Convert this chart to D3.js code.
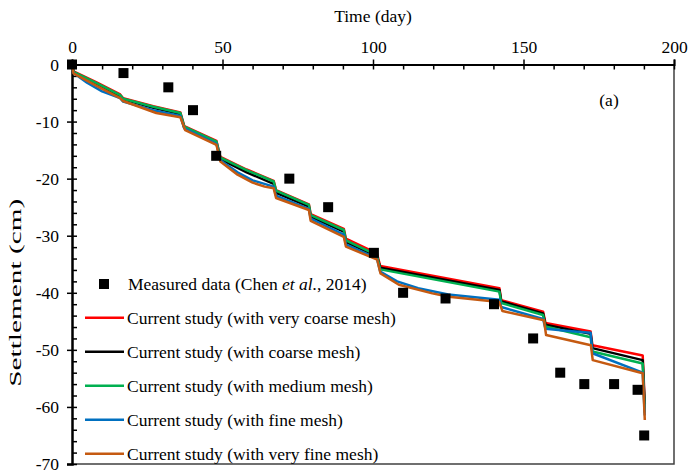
<!DOCTYPE html>
<html>
<head>
<meta charset="utf-8">
<script src="https://cdn.jsdelivr.net/npm/d3@7"></script>
<style>
  html, body { margin: 0; padding: 0; background: #fff; }
  svg text { font-family: "Liberation Serif", "Times New Roman", serif; fill: #000; }
</style>
</head>
<body>
<svg id="chart" width="690" height="474"></svg>
<script>
// Axis ticks
const dayTicks = [0, 50, 100, 150, 200];
const dayMinorTicks = [0, 10, 20, 30, 40, 50, 60, 70, 80, 90, 100, 110, 120, 130, 140, 150, 160, 170, 180, 190, 200];
const settlementTicks = [0, -10, -20, -30, -40, -50, -60, -70];
const settlementMinorTicks = [0, -2, -4, -6, -8, -10, -12, -14, -16, -18, -20, -22, -24, -26, -28, -30, -32, -34, -36, -38, -40,
  -42, -44, -46, -48, -50, -52, -54, -56, -58, -60, -62, -64, -66, -68, -70];

// Field measurements
const measuredDay = [0, 17.1, 32.0, 40.2, 47.9, 72.2, 85.1, 100.3, 110.0, 124.1, 140.2, 153.2, 162.2, 170.2, 180.1, 187.9, 190.1];
const measuredSettlement = [0, -1.5, -4.0, -8.0, -16.0, -20.0, -25.0, -33.0, -40.0, -41.0, -42.0, -48.0, -54.0, -56.0, -56.0, -57.0, -65.0];

// Simulated settlement, [day, cm]
const veryCoarse = [[0,0],[0.5,-1.2],[8,-3.1],[16,-5.25],[17,-5.9],[27,-7.3],[36,-8.4],[37.3,-10.8],[48,-13.4],[49.3,-16.2],[58,-18.4],[67,-20.4],[67.8,-22.0],[78.7,-24.5],[79.3,-26.2],[90.3,-28.8],[91,-30.5],[101.3,-33.1],[102.4,-35.3],[142,-39.2],[142.6,-41.3],[156.5,-43.3],[157.3,-45.3],[172.3,-46.8],[172.9,-49.2],[189.6,-51.0],[190.3,-59.5]];
const coarse = [[0,0],[0.5,-1.35],[8,-3.4],[16,-5.5],[17,-6.1],[27,-7.6],[36,-8.7],[37.3,-11.1],[48,-13.8],[49.3,-16.6],[58,-18.9],[67,-20.9],[67.8,-22.5],[78.7,-24.9],[79.3,-26.7],[90.3,-29.3],[91,-31.1],[101.3,-33.6],[102.4,-35.6],[142,-39.5],[142.6,-41.5],[156.5,-43.6],[157.3,-45.6],[172.3,-47.2],[172.9,-49.7],[189.6,-51.8],[190.3,-60.5]];
const medium = [[0,0],[0.5,-1.3],[8,-3.2],[16,-5.35],[17,-6.0],[27,-7.4],[36,-8.5],[37.3,-10.9],[48,-13.5],[49.3,-16.3],[58,-18.5],[67,-20.5],[67.8,-22.1],[78.7,-24.6],[79.3,-26.4],[90.3,-29.0],[91,-30.8],[101.3,-33.4],[102.4,-35.9],[142,-39.8],[142.6,-41.8],[156.5,-43.9],[157.3,-45.9],[172.3,-47.8],[172.9,-50.3],[189.6,-52.4],[190.3,-61.0]];
const fine = [[0,0],[0.5,-1.5],[5,-3.2],[10,-4.7],[16,-5.9],[17,-6.5],[27,-8.0],[36,-9.0],[37.3,-11.2],[48,-13.9],[49.3,-16.8],[55,-18.9],[60,-20.3],[67,-21.4],[67.8,-23.0],[78.7,-25.3],[79.3,-27.0],[90.3,-29.8],[91,-31.5],[101.3,-34.0],[102.4,-36.3],[108,-38.0],[115,-39.2],[125,-40.3],[142,-41.2],[142.6,-42.5],[156.5,-44.6],[157.3,-46.3],[165,-46.7],[172.3,-47.0],[172.9,-50.6],[189.6,-54.0],[190.3,-61.5]];
const veryFine = [[0,0],[0.5,-1.55],[8,-3.7],[16,-5.9],[17,-6.4],[28,-8.5],[36,-9.25],[37.6,-11.5],[48,-14.1],[49.3,-17.0],[55,-19.3],[60,-20.7],[64,-21.4],[67,-21.7],[67.8,-23.4],[78.7,-25.5],[79.3,-27.4],[90.3,-30.2],[91,-31.9],[101.4,-34.2],[102.5,-36.6],[108.6,-38.6],[119.7,-40.1],[125.2,-40.7],[141.9,-41.6],[143,-43.2],[156.8,-44.8],[157.5,-47.4],[172.4,-49.2],[173,-51.8],[189.6,-54.1],[190.3,-62.3]];

const seriesNames = [
  "Current study (with very coarse mesh)",
  "Current study (with coarse mesh)",
  "Current study (with medium mesh)",
  "Current study (with fine mesh)",
  "Current study (with very fine mesh)"
];
const seriesData = [veryCoarse, coarse, medium, fine, veryFine];
const seriesColors = ["#ff0000", "#000000", "#00b050", "#0070c0", "#c55a11"];

const svg = d3.select("#chart");
const plotLeft = 72, plotRight = 674, plotTop = 64.5, plotBottom = 464;
const fontStack = '"Liberation Serif", "Times New Roman", serif';

const x = d3.scaleLinear().domain([0, 200]).range([plotLeft, plotRight]);
const y = d3.scaleLinear().domain([0, -70]).range([plotTop, plotBottom]);

svg.append("rect").attr("width", 690).attr("height", 474).attr("fill", "#fff");

// Right and bottom frame
svg.append("path")
  .attr("d", `M${plotLeft},${plotBottom}H${plotRight}V${plotTop}`)
  .attr("fill", "none").attr("stroke", "#404040").attr("stroke-width", 1.5);

// Top axis: inward ticks (major + minor) and outward major ticks with labels
svg.append("g").attr("transform", `translate(0,${plotTop})`)
  .call(d3.axisTop(x).tickValues(dayMinorTicks).tickSize(-5).tickFormat(""))
  .call(g => g.select(".domain").remove())
  .call(g => g.selectAll("line").attr("stroke", "#000").attr("stroke-width", 1.5));
const xAxis = svg.append("g").attr("transform", `translate(0,${plotTop})`)
  .call(d3.axisTop(x).tickValues(dayTicks).tickSize(5).tickPadding(7).tickFormat(d3.format("d")));
xAxis.attr("font-family", fontStack).attr("font-size", 17.5);
xAxis.select(".domain").attr("stroke", "#000").attr("stroke-width", 2);
xAxis.selectAll("line").attr("stroke", "#000").attr("stroke-width", 1.5);

// Left axis
svg.append("g").attr("transform", `translate(${plotLeft},0)`)
  .call(d3.axisLeft(y).tickValues(settlementMinorTicks).tickSize(-5).tickFormat(""))
  .call(g => g.select(".domain").remove())
  .call(g => g.selectAll("line").attr("stroke", "#000").attr("stroke-width", 1.5));
const yAxis = svg.append("g").attr("transform", `translate(${plotLeft},0)`)
  .call(d3.axisLeft(y).tickValues(settlementTicks).tickSize(5).tickPadding(8).tickFormat(d => d === 0 ? "0" : "-" + Math.abs(d)));
yAxis.attr("font-family", fontStack).attr("font-size", 17.5);
yAxis.select(".domain").attr("stroke", "#000").attr("stroke-width", 2.5);
yAxis.selectAll("line").attr("stroke", "#000").attr("stroke-width", 1.5);

// Axis titles
svg.append("text").attr("x", (plotLeft + plotRight) / 2).attr("y", 22)
  .attr("text-anchor", "middle").attr("font-size", 17.5).text("Time (day)");
svg.append("text")
  .attr("transform", `translate(21,${y(-40)}) rotate(-90)`)
  .attr("text-anchor", "middle").attr("font-size", 16)
  .attr("textLength", 188).attr("lengthAdjust", "spacingAndGlyphs")
  .text("Settlement (cm)");

// Panel tag
svg.append("text").attr("x", 609).attr("y", 106).attr("text-anchor", "middle")
  .attr("font-size", 17.5).text("(a)");

// Simulated curves
const line = d3.line().x(d => x(d[0])).y(d => y(d[1])).curve(d3.curveLinear);
svg.append("g").selectAll("path").data(seriesData).join("path")
  .attr("d", line)
  .attr("fill", "none")
  .attr("stroke", (d, i) => seriesColors[i])
  .attr("stroke-width", 2.5)
  .attr("stroke-linejoin", "round");

// Measured points
const sq = 10;
svg.append("g").selectAll("rect").data(measuredDay).join("rect")
  .attr("x", (d) => x(d) - sq / 2)
  .attr("y", (d, i) => y(measuredSettlement[i]) - sq / 2)
  .attr("width", sq).attr("height", sq).attr("fill", "#000");

// Legend
const legend = svg.append("g");
legend.append("rect").attr("x", 99).attr("y", 279).attr("width", sq).attr("height", sq).attr("fill", "#000");
const mText = legend.append("text").attr("x", 128).attr("y", 290).attr("font-size", 17.5);
mText.append("tspan").text("Measured data (Chen ");
mText.append("tspan").attr("font-style", "italic").text("et al.");
mText.append("tspan").text(", 2014)");

seriesNames.forEach((name, i) => {
  const ly = 317.7 + i * 34;
  legend.append("line").attr("x1", 85).attr("x2", 124).attr("y1", ly).attr("y2", ly)
    .attr("stroke", seriesColors[i]).attr("stroke-width", 2.5);
  legend.append("text").attr("x", 127).attr("y", ly + 6).attr("font-size", 17.5).text(name);
});
</script>
</body>
</html>
